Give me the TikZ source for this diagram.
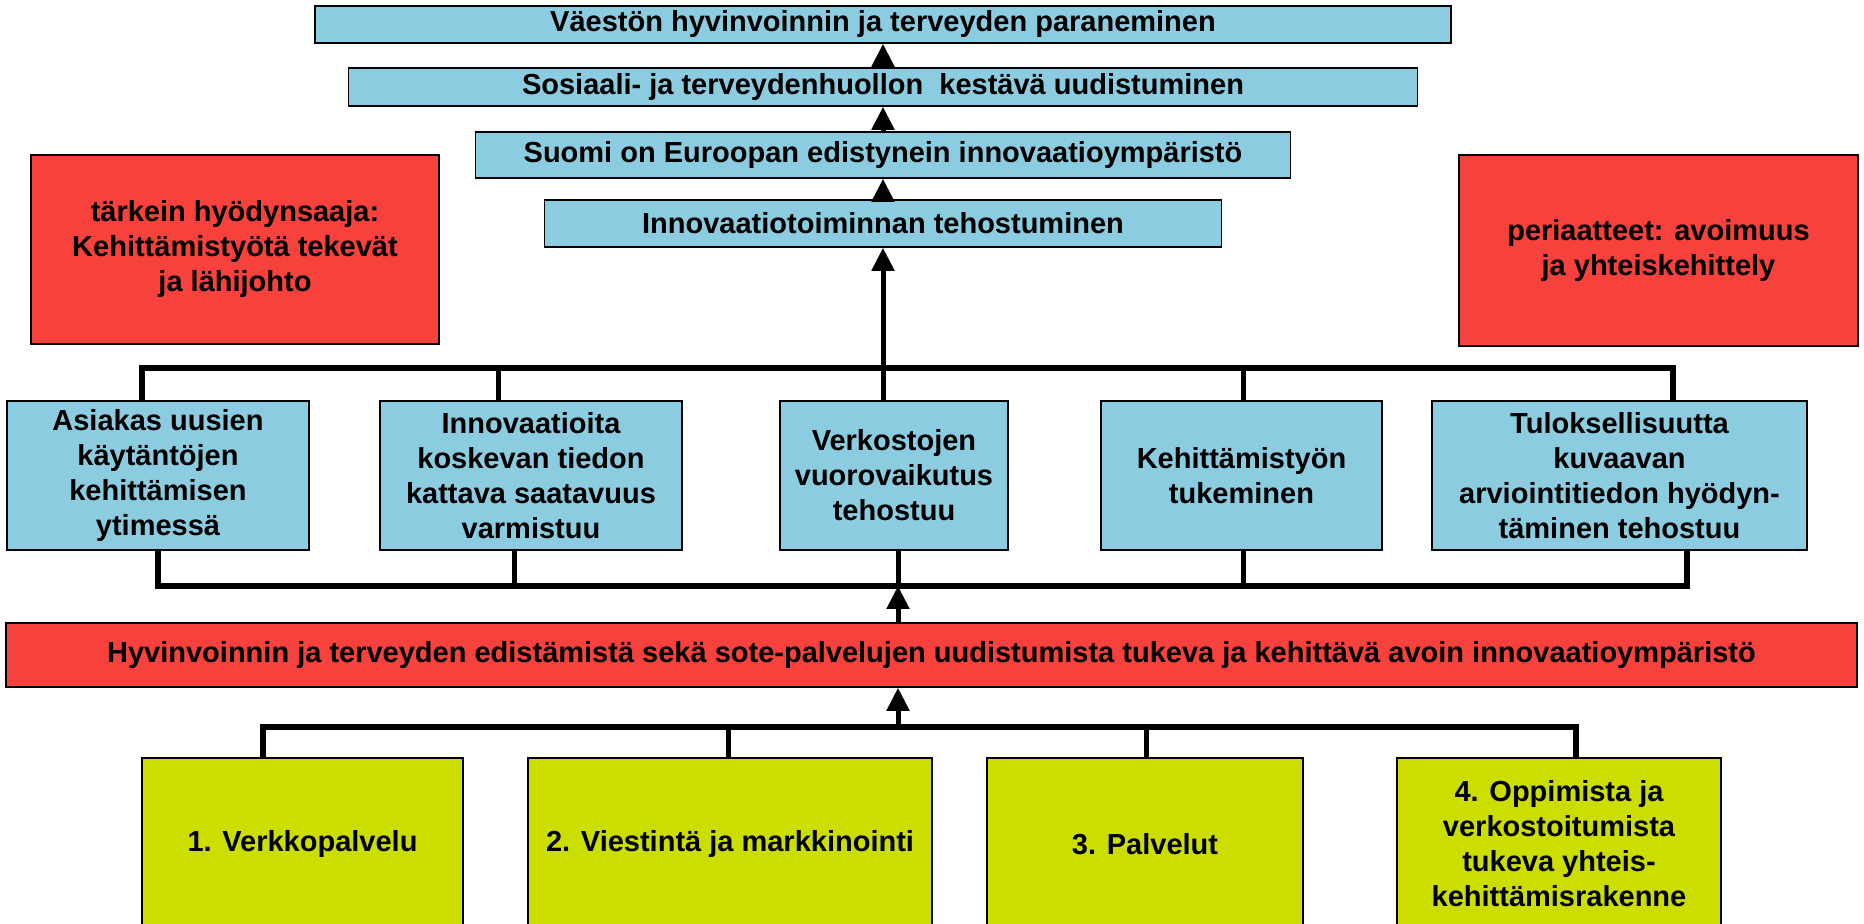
\documentclass[tikz,border=0pt]{standalone}
\usepackage{fontspec}
\setmainfont{Liberation Sans}
\usetikzlibrary{arrows.meta, positioning}

\definecolor{boxblue}{RGB}{139,204,224}
\definecolor{boxred}{RGB}{247,65,60}
\definecolor{boxgreen}{RGB}{204,221,0}

\tikzset{
  box/.style={draw=black, line width=0.8pt, align=center, inner sep=1pt,
    font=\bfseries\fontsize{14.5}{17.5}\selectfont},
  bluebox/.style={box, fill=boxblue},
  redbox/.style={box, fill=boxred},
  greenbox/.style={box, fill=boxgreen},
  bar/.style={line width=3pt},
  drop/.style={line width=2.5pt},
  uparrow/.style={line width=2.5pt, -{Triangle[width=11pt,length=11.5pt]}},
}

\begin{document}
\begin{tikzpicture}[x=0.5pt, y=-0.5pt]
    \useasboundingbox (0,0) rectangle (1864,924);
    \clip (0,0) rectangle (1864,924);

    % Goals at the top
    \node[bluebox, minimum width=568pt, minimum height=18.5pt] (A) at (883,24.5) {Väestön hyvinvoinnin ja terveyden paraneminen};
    \node[bluebox, minimum width=534.5pt, minimum height=19pt] (B) at (883,87) {Sosiaali- ja terveydenhuollon~ kestävä uudistuminen};
    \node[bluebox, minimum width=407.5pt, minimum height=23pt] (C) at (883,155) {Suomi on Euroopan edistynein innovaatioympäristö};
    \node[bluebox, minimum width=338.5pt, minimum height=23.5pt] (D) at (883,223.5) {Innovaatiotoiminnan tehostuminen};

    \node[redbox, minimum width=204pt, minimum height=94.5pt] (L) at (235,249.5) {tärkein hyödynsaaja:\\Kehittämistyötä tekevät\\ja lähijohto};
    \node[redbox, minimum width=199.5pt, minimum height=95.5pt] (R) at (1658.5,250.5) {periaatteet: avoimuus\\ja yhteiskehittely};

    % Middle row
    \node[bluebox, minimum width=151pt, minimum height=74.5pt] (M1) at (158,475.5) {Asiakas uusien\\käytäntöjen\\kehittämisen\\ytimessä};
    \node[bluebox, minimum width=151pt, minimum height=74.5pt] (M2) at (531,475.5) {Innovaatioita\\koskevan tiedon\\kattava saatavuus\\varmistuu};
    \node[bluebox, minimum width=114pt, minimum height=74.5pt] (M3) at (894,475.5) {Verkostojen\\vuorovaikutus\\tehostuu};
    \node[bluebox, minimum width=140.5pt, minimum height=74.5pt] (M4) at (1241.5,475.5) {Kehittämistyön\\tukeminen};
    \node[bluebox, minimum width=187.5pt, minimum height=74.5pt] (M5) at (1619.5,475.5) {Tuloksellisuutta\\kuvaavan\\arviointitiedon hyödyn-\\täminen tehostuu};

    \node[redbox, minimum width=925.5pt, minimum height=32pt] (W) at (931.5,655) {Hyvinvoinnin ja terveyden edistämistä sekä sote-palvelujen uudistumista tukeva ja kehittävä avoin innovaatioympäristö};

    % Bottom row
    \node[greenbox, minimum width=160.5pt, minimum height=86pt] (G1) at (302.5,844) {1. Verkkopalvelu};
    \node[greenbox, minimum width=202pt, minimum height=86pt] (G2) at (730,844) {2. Viestintä ja markkinointi};
    \node[greenbox, minimum width=158pt, minimum height=86pt] (G3) at (1145,844) {3. Palvelut};
    \node[greenbox, minimum width=162pt, minimum height=86pt] (G4) at (1559,844) {4. Oppimista ja\\verkostoitumista\\tukeva yhteis-\\kehittämisrakenne};

    % Junctions on the bars
    \coordinate (t1) at (142,368);  \coordinate (t2) at (498,368);  \coordinate (t3) at (883,368);
    \coordinate (t4) at (1243,368); \coordinate (t5) at (1673,368);
    \coordinate (b1) at (158,586);  \coordinate (b2) at (514,586);  \coordinate (b3) at (898,586);
    \coordinate (b4) at (1243,586); \coordinate (b5) at (1687,586);
    \coordinate (g1) at (263,727);  \coordinate (g2) at (728,727);  \coordinate (g0) at (898,727);
    \coordinate (g3) at (1146,727); \coordinate (g4) at (1576,727);

    \draw[bar] (t1 |- M1.north) -- (t1) -- (t5) -- (t5 |- M5.north);
    \draw[bar] (b1 |- M1.south) -- (b1) -- (b5) -- (b5 |- M5.south);
    \draw[bar] (g1 |- G1.north) -- (g1) -- (g4) -- (g4 |- G4.north);

    \path[drop]
      (t2) edge (t2 |- M2.north)
      (t3) edge (t3 |- M3.north)
      (t4) edge (t4 |- M4.north)
      (b2) edge (b2 |- M2.south)
      (b3) edge (b3 |- M3.south)
      (b4) edge (b4 |- M4.south)
      (g2) edge (g2 |- G2.north)
      (g3) edge (g3 |- G3.north);

    \path[uparrow]
      (t3) edge (D.south)
      (D.north) edge (C.south)
      (C.north) edge (B.south)
      (B.north) edge (A.south)
      (b3 |- W.north) edge (b3)
      (g0) edge (g0 |- W.south);
\end{tikzpicture}
\end{document}
